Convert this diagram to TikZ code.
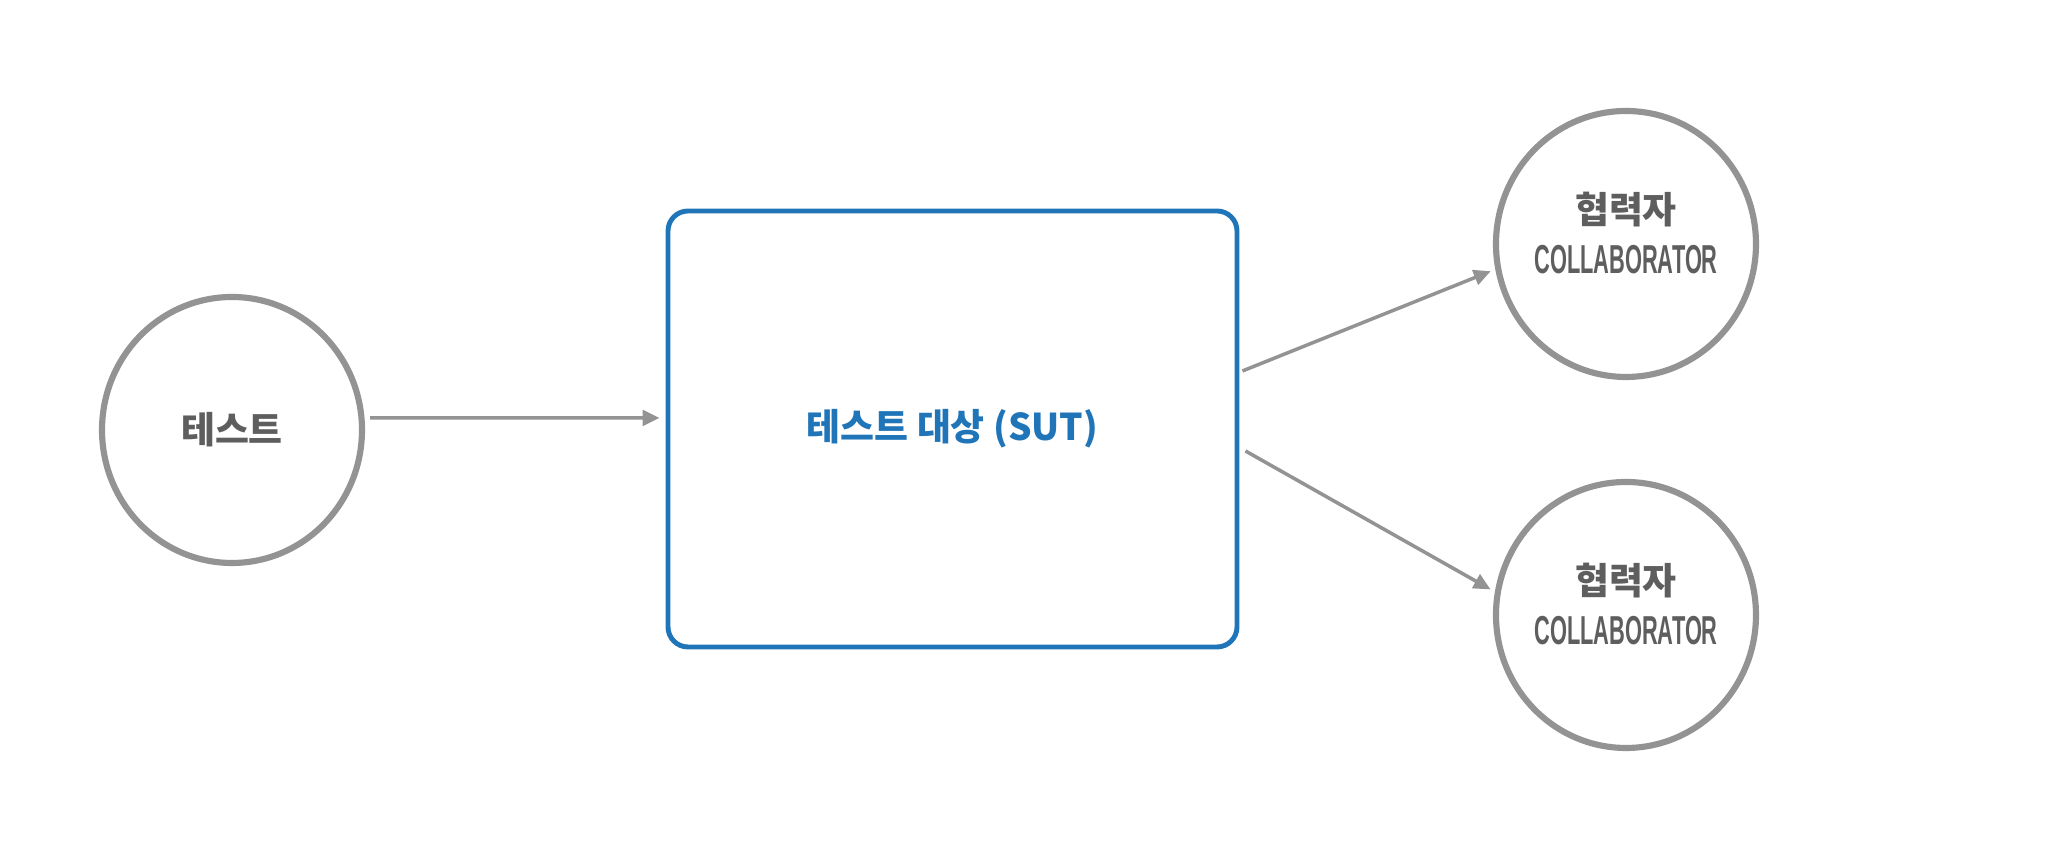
\documentclass[tikz,border=0pt]{standalone}
\usepackage{fontspec}
\usetikzlibrary{calc, arrows.meta, shapes.geometric}
\usepackage{xcolor}
\newfontfamily\kofont{Noto Sans CJK KR}
\newfontfamily\condfont[FakeStretch=0.54]{Liberation Sans Bold}
\definecolor{RingGray}{HTML}{939393}
\definecolor{LabelGray}{HTML}{5E5E5E}
\definecolor{SutBlue}{HTML}{1F75B8}
% two-line label of a collaborator
\newcommand{\collabtext}{{\kofont\bfseries\fontsize{10.5}{12}\selectfont 협력자}\\[2.1pt]
  {\condfont\fontsize{11.5}{12}\selectfont COLLABORATOR\rule[-6.3pt]{0pt}{6.3pt}}}

\begin{document}
\begin{tikzpicture}[
  actor/.style={ellipse, draw=RingGray, line width=1.75pt, fill=white, inner sep=0pt,
              minimum width=2.60cm, minimum height=2.66cm, align=center, text=LabelGray},
  sutbox/.style={rectangle, rounded corners=0.2cm, draw=SutBlue, line width=1.4pt,
              minimum width=5.69cm, minimum height=4.36cm, align=center, text=SutBlue,
              font=\kofont\bfseries\fontsize{10.5}{12}\selectfont},
  flow/.style={-{Triangle[length=4.8pt, width=4.4pt]}, line width=1pt, RingGray},
  ko/.style={font=\kofont\bfseries\fontsize{10.5}{12}\selectfont}
]
  \useasboundingbox (0,0) rectangle (20.48,8.67);
  \node[actor, ko] (test) at (2.32,4.37) {테스트};
  \node[sutbox] (sut) at (9.525,4.38) {테스트 대상 (SUT)};
  \node[actor] (colA) at (16.26,6.23) {\collabtext};
  \node[actor] (colB) at (16.26,2.52) {\collabtext};
  \draw[flow] ([shift={(0.05,0.12)}]test.east) -- ([shift={(-0.06,0.11)}]sut.west);
  \draw[flow, shorten >=1.4pt] ([shift={(0.03,0.58)}]sut.east) -- (colA.191);
  \draw[flow, shorten >=1.4pt] ([shift={(0.06,-0.22)}]sut.east) -- (colB.170);
\end{tikzpicture}
\end{document}
